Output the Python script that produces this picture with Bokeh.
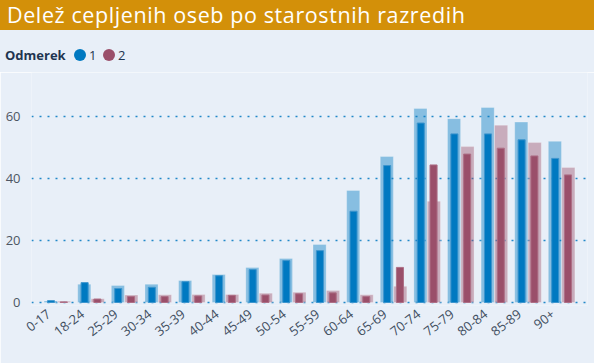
from bokeh.plotting import figure
from bokeh.models import Range1d, FixedTicker, ColumnDataSource, Div
from bokeh.layouts import column
from bokeh.transform import dodge
from bokeh.embed import file_html
from bokeh.resources import INLINE

# ---- data ----
categories = ["0-17", "18-24", "25-29", "30-34", "35-39", "40-44", "45-49", "50-54",
              "55-59", "60-64", "65-69", "70-74", "75-79", "80-84", "85-89", "90+"]
dose1_wide = [0.5, 5.9, 5.5, 5.9, 7.1, 9.0, 11.3, 14.2, 18.7, 36.1, 47.0, 62.5, 59.2, 62.8, 58.1, 51.9]
dose1_narrow = [0.6, 6.4, 4.5, 4.9, 6.7, 8.6, 10.6, 13.5, 16.7, 29.4, 44.1, 57.8, 54.3, 54.3, 52.4, 46.4]
dose2_wide = [0.4, 1.2, 2.4, 2.5, 2.6, 2.6, 3.0, 3.3, 3.9, 2.5, 5.2, 32.6, 50.2, 57.1, 51.5, 43.5]
dose2_narrow = [0.2, 1.1, 1.9, 1.9, 2.1, 2.3, 2.4, 2.8, 3.1, 1.9, 11.3, 44.3, 47.8, 49.7, 47.2, 41.1]
y_ticks = [0, 20, 40, 60]
title_text = "Delež cepljenih oseb po starostnih razredih"
legend_title = "Odmerek"
series_names = ["1", "2"]

# ---- styles ----
BG = "#E8EFF8"
GOLD = "#D39009"
BLUE = "#0079C1"
PURPLE = "#9A4F6A"
FONT = "Open Sans"
W = 594

positions = list(range(len(categories)))
label_shift = -0.25   # tick labels end slightly left of the bar groups
label_ticks = [i + label_shift for i in positions]

src = ColumnDataSource(dict(x=positions, cat=categories, w1=dose1_wide, n1=dose1_narrow,
                            w2=dose2_wide, n2=dose2_narrow))

# ---------- main chart ----------
p = figure(x_range=Range1d(-0.77, len(categories) - 0.23),
           y_range=Range1d(-0.966, 74.07),
           width=W, height=291, output_backend="svg", toolbar_location=None,
           background_fill_color=BG, border_fill_color=BG, outline_line_color=None,
           min_border_left=31, min_border_right=W - 587, min_border_top=0,
           min_border_bottom=58)

p.vbar(x=dodge("x", -0.2), top="w1", width=0.39, source=src,
       fill_color=BLUE, fill_alpha=0.42, line_color="white", line_alpha=0.25)
p.vbar(x=dodge("x", 0.2), top="w2", width=0.39, source=src,
       fill_color=PURPLE, fill_alpha=0.42, line_color="white", line_alpha=0.25)
p.vbar(x=dodge("x", -0.19), top="n1", width=0.21, source=src,
       fill_color=BLUE, line_color="#3D95CD", line_width=1)
p.vbar(x=dodge("x", 0.19), top="n2", width=0.21, source=src,
       fill_color=PURPLE, line_color="#AD6F86", line_width=1)

p.yaxis.ticker = FixedTicker(ticks=y_ticks)
p.yaxis.axis_line_color = None
p.yaxis.major_tick_line_color = None
p.yaxis.minor_tick_line_color = None
p.yaxis.major_tick_out = 0
p.yaxis.major_label_standoff = 11
p.yaxis.major_label_text_font = FONT
p.yaxis.major_label_text_font_size = "13px"
p.yaxis.major_label_text_color = "#4D5663"

p.xaxis.ticker = FixedTicker(ticks=label_ticks)
p.xaxis.major_label_overrides = {t: c for t, c in zip(label_ticks, categories)}
p.xaxis.axis_line_color = None
p.xaxis.major_tick_line_color = None
p.xaxis.minor_tick_line_color = None
p.xaxis.major_tick_out = 0
p.xaxis.major_label_orientation = 0.66
p.xaxis.major_label_standoff = 7
p.xaxis.major_label_text_font = FONT
p.xaxis.major_label_text_font_size = "13px"
p.xaxis.major_label_text_color = "#3F4E60"

p.xgrid.grid_line_color = None
p.ygrid.ticker = FixedTicker(ticks=y_ticks)
p.ygrid.grid_line_color = "#2288C8"
p.ygrid.grid_line_dash = "2 6"
p.ygrid.grid_line_width = 1.6

# ---------- title bar + legend row ----------
def swatch(left, color):
    return ('<span style="position:absolute;left:%dpx;top:49px;width:12px;height:12px;'
            'border-radius:50%%;background:%s;"></span>' % (left, color))

def text_at(left, txt, bold=False):
    return ('<span style="position:absolute;left:%dpx;top:46px;height:18px;line-height:18px;'
            'font-size:13px;color:#1F3550;white-space:nowrap;%s">%s</span>'
            % (left, "font-weight:700;" if bold else "", txt))

header_html = (
    '<div style="position:relative;width:%dpx;height:72px;background:%s;'
    'font-family:\'%s\';overflow:hidden;">' % (W, BG, FONT)
    + '<div style="position:absolute;left:0;top:0;width:%dpx;height:30px;background:%s;'
      'color:#ffffff;font-size:21.5px;letter-spacing:0.6px;line-height:30px;'
      'padding-left:7px;box-sizing:border-box;white-space:nowrap;">%s</div>'
      % (W, GOLD, title_text)
    + text_at(5, legend_title, bold=True)
    + swatch(74, BLUE) + text_at(89, series_names[0])
    + swatch(103, PURPLE) + text_at(118, series_names[1])
    + '</div>'
)
header = Div(text=header_html, width=W, height=72, margin=0)

layout = column(header, p, spacing=0)
open("out.html", "w").write(file_html(layout, INLINE))
